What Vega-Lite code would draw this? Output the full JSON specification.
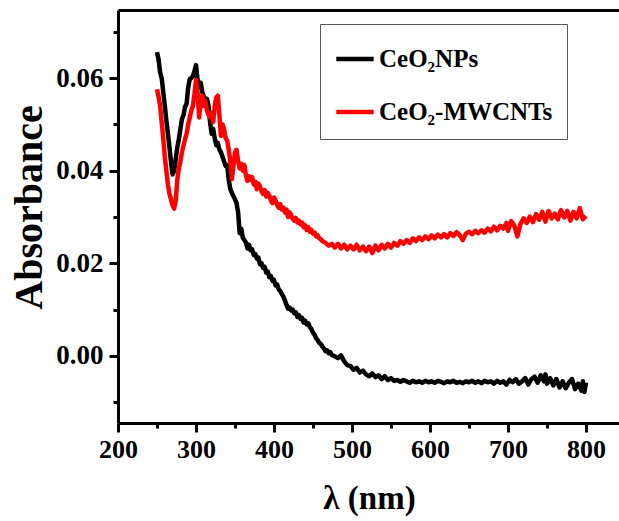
{
  "$schema": "https://vega.github.io/schema/vega-lite/v6.json",
  "width": 501,
  "height": 413,
  "autosize": {"type": "none"},
  "padding": {"left": 118, "top": 10, "right": 0, "bottom": 98},
  "background": "white",
  "config": {
    "view": {"stroke": null},
    "font": "Liberation Serif"
  },
  "data": {"values": [
{"s":"NP","wl":250,"abs":0.0656},{"s":"NP","wl":252,"abs":0.0640},{"s":"NP","wl":254,"abs":0.0612},{"s":"NP","wl":256,"abs":0.0600},{"s":"NP","wl":258,"abs":0.0570},{"s":"NP","wl":260,"abs":0.0540},{"s":"NP","wl":262,"abs":0.0508},{"s":"NP","wl":264,"abs":0.0480},{"s":"NP","wl":266,"abs":0.0450},{"s":"NP","wl":268,"abs":0.0418},{"s":"NP","wl":270,"abs":0.0392},{"s":"NP","wl":272,"abs":0.0400},{"s":"NP","wl":274,"abs":0.0425},{"s":"NP","wl":276,"abs":0.0450},{"s":"NP","wl":278,"abs":0.0468},{"s":"NP","wl":280,"abs":0.0490},{"s":"NP","wl":282,"abs":0.0512},{"s":"NP","wl":284,"abs":0.0520},{"s":"NP","wl":286,"abs":0.0538},{"s":"NP","wl":288,"abs":0.0545},{"s":"NP","wl":290,"abs":0.0580},{"s":"NP","wl":292,"abs":0.0598},{"s":"NP","wl":294,"abs":0.0600},{"s":"NP","wl":296,"abs":0.0604},{"s":"NP","wl":298,"abs":0.0615},{"s":"NP","wl":300,"abs":0.0628},{"s":"NP","wl":302,"abs":0.0596},{"s":"NP","wl":304,"abs":0.0580},{"s":"NP","wl":306,"abs":0.0590},{"s":"NP","wl":308,"abs":0.0570},{"s":"NP","wl":310,"abs":0.0560},{"s":"NP","wl":312,"abs":0.0548},{"s":"NP","wl":314,"abs":0.0555},{"s":"NP","wl":316,"abs":0.0540},{"s":"NP","wl":318,"abs":0.0505},{"s":"NP","wl":320,"abs":0.0480},{"s":"NP","wl":322,"abs":0.0490},{"s":"NP","wl":324,"abs":0.0470},{"s":"NP","wl":326,"abs":0.0455},{"s":"NP","wl":328,"abs":0.0460},{"s":"NP","wl":330,"abs":0.0445},{"s":"NP","wl":332,"abs":0.0440},{"s":"NP","wl":334,"abs":0.0430},{"s":"NP","wl":336,"abs":0.0420},{"s":"NP","wl":338,"abs":0.0410},{"s":"NP","wl":340,"abs":0.0412},{"s":"NP","wl":342,"abs":0.0380},{"s":"NP","wl":344,"abs":0.0360},{"s":"NP","wl":346,"abs":0.0352},{"s":"NP","wl":348,"abs":0.0345},{"s":"NP","wl":350,"abs":0.0338},{"s":"NP","wl":352,"abs":0.0330},{"s":"NP","wl":354,"abs":0.0310},{"s":"NP","wl":356,"abs":0.0265},{"s":"NP","wl":358,"abs":0.0275},{"s":"NP","wl":360,"abs":0.0255},{"s":"NP","wl":362,"abs":0.0250},{"s":"NP","wl":364,"abs":0.0245},{"s":"NP","wl":366,"abs":0.0232},{"s":"NP","wl":368,"abs":0.0240},{"s":"NP","wl":370,"abs":0.0228},{"s":"NP","wl":372,"abs":0.0230},{"s":"NP","wl":374,"abs":0.0218},{"s":"NP","wl":376,"abs":0.0220},{"s":"NP","wl":378,"abs":0.0210},{"s":"NP","wl":380,"abs":0.0212},{"s":"NP","wl":382,"abs":0.0198},{"s":"NP","wl":384,"abs":0.0200},{"s":"NP","wl":386,"abs":0.0190},{"s":"NP","wl":388,"abs":0.0192},{"s":"NP","wl":390,"abs":0.0180},{"s":"NP","wl":392,"abs":0.0182},{"s":"NP","wl":394,"abs":0.0170},{"s":"NP","wl":396,"abs":0.0172},{"s":"NP","wl":398,"abs":0.0162},{"s":"NP","wl":400,"abs":0.0164},{"s":"NP","wl":402,"abs":0.0152},{"s":"NP","wl":404,"abs":0.0154},{"s":"NP","wl":406,"abs":0.0144},{"s":"NP","wl":408,"abs":0.0140},{"s":"NP","wl":410,"abs":0.0134},{"s":"NP","wl":412,"abs":0.0128},{"s":"NP","wl":414,"abs":0.0120},{"s":"NP","wl":416,"abs":0.0110},{"s":"NP","wl":418,"abs":0.0102},{"s":"NP","wl":420,"abs":0.0104},{"s":"NP","wl":422,"abs":0.0098},{"s":"NP","wl":424,"abs":0.0100},{"s":"NP","wl":426,"abs":0.0092},{"s":"NP","wl":428,"abs":0.0094},{"s":"NP","wl":430,"abs":0.0084},{"s":"NP","wl":432,"abs":0.0088},{"s":"NP","wl":434,"abs":0.0080},{"s":"NP","wl":436,"abs":0.0082},{"s":"NP","wl":438,"abs":0.0072},{"s":"NP","wl":440,"abs":0.0076},{"s":"NP","wl":442,"abs":0.0068},{"s":"NP","wl":444,"abs":0.0070},{"s":"NP","wl":446,"abs":0.0062},{"s":"NP","wl":448,"abs":0.0058},{"s":"NP","wl":450,"abs":0.0050},{"s":"NP","wl":452,"abs":0.0046},{"s":"NP","wl":454,"abs":0.0038},{"s":"NP","wl":456,"abs":0.0034},{"s":"NP","wl":458,"abs":0.0028},{"s":"NP","wl":460,"abs":0.0026},{"s":"NP","wl":462,"abs":0.0020},{"s":"NP","wl":464,"abs":0.0016},{"s":"NP","wl":466,"abs":0.0010},{"s":"NP","wl":468,"abs":0.0012},{"s":"NP","wl":470,"abs":0.0006},{"s":"NP","wl":472,"abs":0.0008},{"s":"NP","wl":474,"abs":0.0002},{"s":"NP","wl":478,"abs":-0.0001},{"s":"NP","wl":482,"abs":-0.0005},{"s":"NP","wl":486,"abs":0.0001},{"s":"NP","wl":490,"abs":-0.0012},{"s":"NP","wl":494,"abs":-0.0020},{"s":"NP","wl":498,"abs":-0.0022},{"s":"NP","wl":502,"abs":-0.0030},{"s":"NP","wl":506,"abs":-0.0026},{"s":"NP","wl":510,"abs":-0.0036},{"s":"NP","wl":514,"abs":-0.0032},{"s":"NP","wl":518,"abs":-0.0040},{"s":"NP","wl":522,"abs":-0.0044},{"s":"NP","wl":526,"abs":-0.0038},{"s":"NP","wl":530,"abs":-0.0046},{"s":"NP","wl":534,"abs":-0.0042},{"s":"NP","wl":538,"abs":-0.0050},{"s":"NP","wl":542,"abs":-0.0044},{"s":"NP","wl":546,"abs":-0.0052},{"s":"NP","wl":550,"abs":-0.0048},{"s":"NP","wl":554,"abs":-0.0054},{"s":"NP","wl":558,"abs":-0.0052},{"s":"NP","wl":562,"abs":-0.0056},{"s":"NP","wl":566,"abs":-0.0052},{"s":"NP","wl":570,"abs":-0.0055},{"s":"NP","wl":574,"abs":-0.0058},{"s":"NP","wl":578,"abs":-0.0054},{"s":"NP","wl":582,"abs":-0.0057},{"s":"NP","wl":586,"abs":-0.0055},{"s":"NP","wl":590,"abs":-0.0058},{"s":"NP","wl":594,"abs":-0.0054},{"s":"NP","wl":598,"abs":-0.0057},{"s":"NP","wl":602,"abs":-0.0055},{"s":"NP","wl":606,"abs":-0.0058},{"s":"NP","wl":610,"abs":-0.0054},{"s":"NP","wl":614,"abs":-0.0056},{"s":"NP","wl":618,"abs":-0.0059},{"s":"NP","wl":622,"abs":-0.0055},{"s":"NP","wl":626,"abs":-0.0057},{"s":"NP","wl":630,"abs":-0.0054},{"s":"NP","wl":634,"abs":-0.0058},{"s":"NP","wl":638,"abs":-0.0056},{"s":"NP","wl":642,"abs":-0.0059},{"s":"NP","wl":646,"abs":-0.0055},{"s":"NP","wl":650,"abs":-0.0057},{"s":"NP","wl":654,"abs":-0.0054},{"s":"NP","wl":658,"abs":-0.0058},{"s":"NP","wl":662,"abs":-0.0055},{"s":"NP","wl":666,"abs":-0.0059},{"s":"NP","wl":670,"abs":-0.0054},{"s":"NP","wl":674,"abs":-0.0057},{"s":"NP","wl":678,"abs":-0.0055},{"s":"NP","wl":682,"abs":-0.0060},{"s":"NP","wl":686,"abs":-0.0054},{"s":"NP","wl":690,"abs":-0.0058},{"s":"NP","wl":694,"abs":-0.0055},{"s":"NP","wl":698,"abs":-0.0062},{"s":"NP","wl":702,"abs":-0.0052},{"s":"NP","wl":706,"abs":-0.0057},{"s":"NP","wl":710,"abs":-0.0050},{"s":"NP","wl":714,"abs":-0.0060},{"s":"NP","wl":718,"abs":-0.0055},{"s":"NP","wl":722,"abs":-0.0048},{"s":"NP","wl":726,"abs":-0.0062},{"s":"NP","wl":730,"abs":-0.0050},{"s":"NP","wl":734,"abs":-0.0045},{"s":"NP","wl":738,"abs":-0.0058},{"s":"NP","wl":742,"abs":-0.0042},{"s":"NP","wl":746,"abs":-0.0055},{"s":"NP","wl":748,"abs":-0.0040},{"s":"NP","wl":750,"abs":-0.0060},{"s":"NP","wl":754,"abs":-0.0048},{"s":"NP","wl":758,"abs":-0.0064},{"s":"NP","wl":762,"abs":-0.0050},{"s":"NP","wl":766,"abs":-0.0068},{"s":"NP","wl":770,"abs":-0.0055},{"s":"NP","wl":774,"abs":-0.0070},{"s":"NP","wl":778,"abs":-0.0058},{"s":"NP","wl":782,"abs":-0.0050},{"s":"NP","wl":786,"abs":-0.0072},{"s":"NP","wl":790,"abs":-0.0060},{"s":"NP","wl":794,"abs":-0.0075},{"s":"NP","wl":796,"abs":-0.0055},{"s":"NP","wl":798,"abs":-0.0078},{"s":"NP","wl":800,"abs":-0.0058},
{"s":"MW","wl":250,"abs":0.0576},{"s":"MW","wl":252,"abs":0.0560},{"s":"MW","wl":254,"abs":0.0540},{"s":"MW","wl":256,"abs":0.0505},{"s":"MW","wl":258,"abs":0.0470},{"s":"MW","wl":260,"abs":0.0430},{"s":"MW","wl":262,"abs":0.0400},{"s":"MW","wl":264,"abs":0.0370},{"s":"MW","wl":266,"abs":0.0350},{"s":"MW","wl":268,"abs":0.0338},{"s":"MW","wl":270,"abs":0.0325},{"s":"MW","wl":272,"abs":0.0318},{"s":"MW","wl":274,"abs":0.0335},{"s":"MW","wl":276,"abs":0.0380},{"s":"MW","wl":278,"abs":0.0405},{"s":"MW","wl":280,"abs":0.0420},{"s":"MW","wl":282,"abs":0.0440},{"s":"MW","wl":284,"abs":0.0455},{"s":"MW","wl":286,"abs":0.0468},{"s":"MW","wl":288,"abs":0.0480},{"s":"MW","wl":290,"abs":0.0500},{"s":"MW","wl":292,"abs":0.0515},{"s":"MW","wl":294,"abs":0.0530},{"s":"MW","wl":296,"abs":0.0540},{"s":"MW","wl":298,"abs":0.0565},{"s":"MW","wl":300,"abs":0.0596},{"s":"MW","wl":302,"abs":0.0570},{"s":"MW","wl":304,"abs":0.0515},{"s":"MW","wl":306,"abs":0.0545},{"s":"MW","wl":308,"abs":0.0562},{"s":"MW","wl":310,"abs":0.0540},{"s":"MW","wl":312,"abs":0.0550},{"s":"MW","wl":314,"abs":0.0530},{"s":"MW","wl":316,"abs":0.0520},{"s":"MW","wl":318,"abs":0.0515},{"s":"MW","wl":320,"abs":0.0525},{"s":"MW","wl":322,"abs":0.0505},{"s":"MW","wl":324,"abs":0.0540},{"s":"MW","wl":326,"abs":0.0558},{"s":"MW","wl":328,"abs":0.0562},{"s":"MW","wl":330,"abs":0.0520},{"s":"MW","wl":332,"abs":0.0475},{"s":"MW","wl":334,"abs":0.0500},{"s":"MW","wl":336,"abs":0.0490},{"s":"MW","wl":338,"abs":0.0470},{"s":"MW","wl":340,"abs":0.0465},{"s":"MW","wl":342,"abs":0.0445},{"s":"MW","wl":344,"abs":0.0420},{"s":"MW","wl":346,"abs":0.0382},{"s":"MW","wl":348,"abs":0.0410},{"s":"MW","wl":350,"abs":0.0440},{"s":"MW","wl":352,"abs":0.0445},{"s":"MW","wl":354,"abs":0.0420},{"s":"MW","wl":356,"abs":0.0405},{"s":"MW","wl":358,"abs":0.0415},{"s":"MW","wl":360,"abs":0.0400},{"s":"MW","wl":362,"abs":0.0412},{"s":"MW","wl":364,"abs":0.0390},{"s":"MW","wl":366,"abs":0.0378},{"s":"MW","wl":368,"abs":0.0388},{"s":"MW","wl":370,"abs":0.0380},{"s":"MW","wl":372,"abs":0.0386},{"s":"MW","wl":374,"abs":0.0370},{"s":"MW","wl":376,"abs":0.0376},{"s":"MW","wl":378,"abs":0.0360},{"s":"MW","wl":380,"abs":0.0372},{"s":"MW","wl":382,"abs":0.0366},{"s":"MW","wl":384,"abs":0.0356},{"s":"MW","wl":386,"abs":0.0350},{"s":"MW","wl":388,"abs":0.0358},{"s":"MW","wl":390,"abs":0.0344},{"s":"MW","wl":392,"abs":0.0352},{"s":"MW","wl":394,"abs":0.0346},{"s":"MW","wl":396,"abs":0.0336},{"s":"MW","wl":398,"abs":0.0330},{"s":"MW","wl":400,"abs":0.0342},{"s":"MW","wl":402,"abs":0.0336},{"s":"MW","wl":404,"abs":0.0326},{"s":"MW","wl":406,"abs":0.0320},{"s":"MW","wl":408,"abs":0.0328},{"s":"MW","wl":410,"abs":0.0316},{"s":"MW","wl":412,"abs":0.0320},{"s":"MW","wl":414,"abs":0.0310},{"s":"MW","wl":416,"abs":0.0316},{"s":"MW","wl":418,"abs":0.0300},{"s":"MW","wl":420,"abs":0.0310},{"s":"MW","wl":422,"abs":0.0304},{"s":"MW","wl":424,"abs":0.0296},{"s":"MW","wl":426,"abs":0.0292},{"s":"MW","wl":428,"abs":0.0298},{"s":"MW","wl":430,"abs":0.0288},{"s":"MW","wl":432,"abs":0.0292},{"s":"MW","wl":434,"abs":0.0284},{"s":"MW","wl":436,"abs":0.0288},{"s":"MW","wl":438,"abs":0.0278},{"s":"MW","wl":440,"abs":0.0282},{"s":"MW","wl":442,"abs":0.0272},{"s":"MW","wl":444,"abs":0.0278},{"s":"MW","wl":446,"abs":0.0268},{"s":"MW","wl":448,"abs":0.0272},{"s":"MW","wl":450,"abs":0.0264},{"s":"MW","wl":452,"abs":0.0266},{"s":"MW","wl":454,"abs":0.0258},{"s":"MW","wl":456,"abs":0.0260},{"s":"MW","wl":458,"abs":0.0254},{"s":"MW","wl":460,"abs":0.0252},{"s":"MW","wl":462,"abs":0.0248},{"s":"MW","wl":466,"abs":0.0244},{"s":"MW","wl":470,"abs":0.0238},{"s":"MW","wl":474,"abs":0.0242},{"s":"MW","wl":478,"abs":0.0234},{"s":"MW","wl":482,"abs":0.0242},{"s":"MW","wl":486,"abs":0.0232},{"s":"MW","wl":490,"abs":0.0240},{"s":"MW","wl":494,"abs":0.0230},{"s":"MW","wl":498,"abs":0.0238},{"s":"MW","wl":502,"abs":0.0230},{"s":"MW","wl":506,"abs":0.0240},{"s":"MW","wl":510,"abs":0.0228},{"s":"MW","wl":514,"abs":0.0236},{"s":"MW","wl":518,"abs":0.0226},{"s":"MW","wl":522,"abs":0.0236},{"s":"MW","wl":526,"abs":0.0222},{"s":"MW","wl":530,"abs":0.0238},{"s":"MW","wl":534,"abs":0.0228},{"s":"MW","wl":538,"abs":0.0240},{"s":"MW","wl":542,"abs":0.0232},{"s":"MW","wl":546,"abs":0.0242},{"s":"MW","wl":550,"abs":0.0234},{"s":"MW","wl":554,"abs":0.0244},{"s":"MW","wl":558,"abs":0.0238},{"s":"MW","wl":562,"abs":0.0248},{"s":"MW","wl":566,"abs":0.0242},{"s":"MW","wl":570,"abs":0.0250},{"s":"MW","wl":574,"abs":0.0244},{"s":"MW","wl":578,"abs":0.0254},{"s":"MW","wl":582,"abs":0.0248},{"s":"MW","wl":586,"abs":0.0256},{"s":"MW","wl":590,"abs":0.0250},{"s":"MW","wl":594,"abs":0.0258},{"s":"MW","wl":598,"abs":0.0252},{"s":"MW","wl":602,"abs":0.0260},{"s":"MW","wl":606,"abs":0.0254},{"s":"MW","wl":610,"abs":0.0262},{"s":"MW","wl":614,"abs":0.0256},{"s":"MW","wl":618,"abs":0.0263},{"s":"MW","wl":622,"abs":0.0256},{"s":"MW","wl":626,"abs":0.0265},{"s":"MW","wl":630,"abs":0.0259},{"s":"MW","wl":634,"abs":0.0267},{"s":"MW","wl":638,"abs":0.0261},{"s":"MW","wl":642,"abs":0.0250},{"s":"MW","wl":646,"abs":0.0264},{"s":"MW","wl":650,"abs":0.0268},{"s":"MW","wl":654,"abs":0.0263},{"s":"MW","wl":658,"abs":0.0270},{"s":"MW","wl":662,"abs":0.0265},{"s":"MW","wl":666,"abs":0.0271},{"s":"MW","wl":670,"abs":0.0266},{"s":"MW","wl":674,"abs":0.0275},{"s":"MW","wl":678,"abs":0.0269},{"s":"MW","wl":682,"abs":0.0279},{"s":"MW","wl":686,"abs":0.0271},{"s":"MW","wl":690,"abs":0.0281},{"s":"MW","wl":694,"abs":0.0275},{"s":"MW","wl":698,"abs":0.0287},{"s":"MW","wl":700,"abs":0.0270},{"s":"MW","wl":704,"abs":0.0291},{"s":"MW","wl":708,"abs":0.0282},{"s":"MW","wl":712,"abs":0.0258},{"s":"MW","wl":716,"abs":0.0285},{"s":"MW","wl":720,"abs":0.0297},{"s":"MW","wl":724,"abs":0.0287},{"s":"MW","wl":728,"abs":0.0301},{"s":"MW","wl":732,"abs":0.0289},{"s":"MW","wl":736,"abs":0.0306},{"s":"MW","wl":740,"abs":0.0294},{"s":"MW","wl":744,"abs":0.0311},{"s":"MW","wl":748,"abs":0.0290},{"s":"MW","wl":752,"abs":0.0313},{"s":"MW","wl":756,"abs":0.0297},{"s":"MW","wl":760,"abs":0.0307},{"s":"MW","wl":764,"abs":0.0295},{"s":"MW","wl":768,"abs":0.0315},{"s":"MW","wl":772,"abs":0.0299},{"s":"MW","wl":776,"abs":0.0313},{"s":"MW","wl":780,"abs":0.0292},{"s":"MW","wl":784,"abs":0.0311},{"s":"MW","wl":788,"abs":0.0297},{"s":"MW","wl":792,"abs":0.0319},{"s":"MW","wl":796,"abs":0.0295},{"s":"MW","wl":800,"abs":0.0302}
  ]},
  "resolve": {"axis": {"x": "independent"}},
  "layer": [
    {
      "mark": {"type": "line", "strokeWidth": 4.5, "strokeJoin": "round", "clip": true},
      "encoding": {
        "x": {
          "field": "wl", "type": "quantitative",
          "scale": {"domain": [200, 842.3], "nice": false, "zero": false},
          "axis": {
            "title": "λ (nm)",
            "orient": "bottom",
            "values": [200,250,300,350,400,450,500,550,600,650,700,750,800],
            "labelExpr": "datum.value % 100 == 0 ? datum.label : ''",
            "format": "d",
            "grid": false,
            "domainColor": "black", "domainWidth": 3,
            "tickColor": "black", "tickWidth": 3,
            "tickSize": {"condition": {"test": "datum.value % 100 != 0", "value": 5}, "value": 9},
            "labelPadding": 4,
            "labelFont": "Liberation Serif", "labelFontSize": 26, "labelFontWeight": "bold", "labelColor": "black",
            "labelFlush": false, "labelOverlap": false,
            "titleFont": "Liberation Serif", "titleFontSize": 33, "titleFontWeight": "bold", "titleColor": "black",
            "titlePadding": 20,
            "titleX": 251
          }
        },
        "y": {
          "field": "abs", "type": "quantitative",
          "scale": {"domain": [-0.0145, 0.0747], "nice": false, "zero": false},
          "axis": {
            "title": "Absorbance",
            "values": [-0.01,0,0.01,0.02,0.03,0.04,0.05,0.06,0.07],
            "labelExpr": "abs(round(datum.value*100)) % 2 == 0 ? format(datum.value, '.2f') : ''",
            "grid": false,
            "domainColor": "black", "domainWidth": 3,
            "tickColor": "black", "tickWidth": 3,
            "tickSize": {"condition": {"test": "abs(round(datum.value*100)) % 2 == 1", "value": 5}, "value": 9},
            "labelPadding": 6,
            "labelFont": "Liberation Serif", "labelFontSize": 27, "labelFontWeight": "bold", "labelColor": "black",
            "labelFlush": false, "labelOverlap": false,
            "titleFont": "Liberation Serif", "titleFontSize": 40, "titleFontWeight": "bold", "titleColor": "black",
            "titlePadding": 6,
            "titleY": 197
          }
        },
        "color": {
          "field": "s", "type": "nominal",
          "scale": {"domain": ["NP", "MW"], "range": ["black", "#ff0000"]},
          "legend": {
            "title": null,
            "orient": "none",
            "legendX": 202,
            "legendY": 14,
            "labelExpr": "datum.value == 'NP' ? 'CeO₂NPs' : 'CeO₂-MWCNTs'",
            "symbolType": "stroke",
            "symbolSize": 1400,
            "symbolStrokeWidth": 4.5,
            "labelFont": "Liberation Serif", "labelFontSize": 25, "labelFontWeight": "bold", "labelColor": "black",
            "labelLimit": 300,
            "rowPadding": 19,
            "padding": 14,
            "strokeColor": "#555555",
            "fillColor": "white",
            "labelOffset": 3
          }
        }
      }
    },
    {
      "mark": {"type": "line", "strokeOpacity": 0, "clip": true},
      "encoding": {
        "x": {
          "field": "wl", "type": "quantitative",
          "axis": {
            "orient": "top",
            "title": null,
            "labels": false,
            "ticks": false,
            "grid": false,
            "domainColor": "black", "domainWidth": 3
          }
        },
        "y": {"field": "abs", "type": "quantitative"},
        "detail": {"field": "s"}
      }
    }
  ]
}
